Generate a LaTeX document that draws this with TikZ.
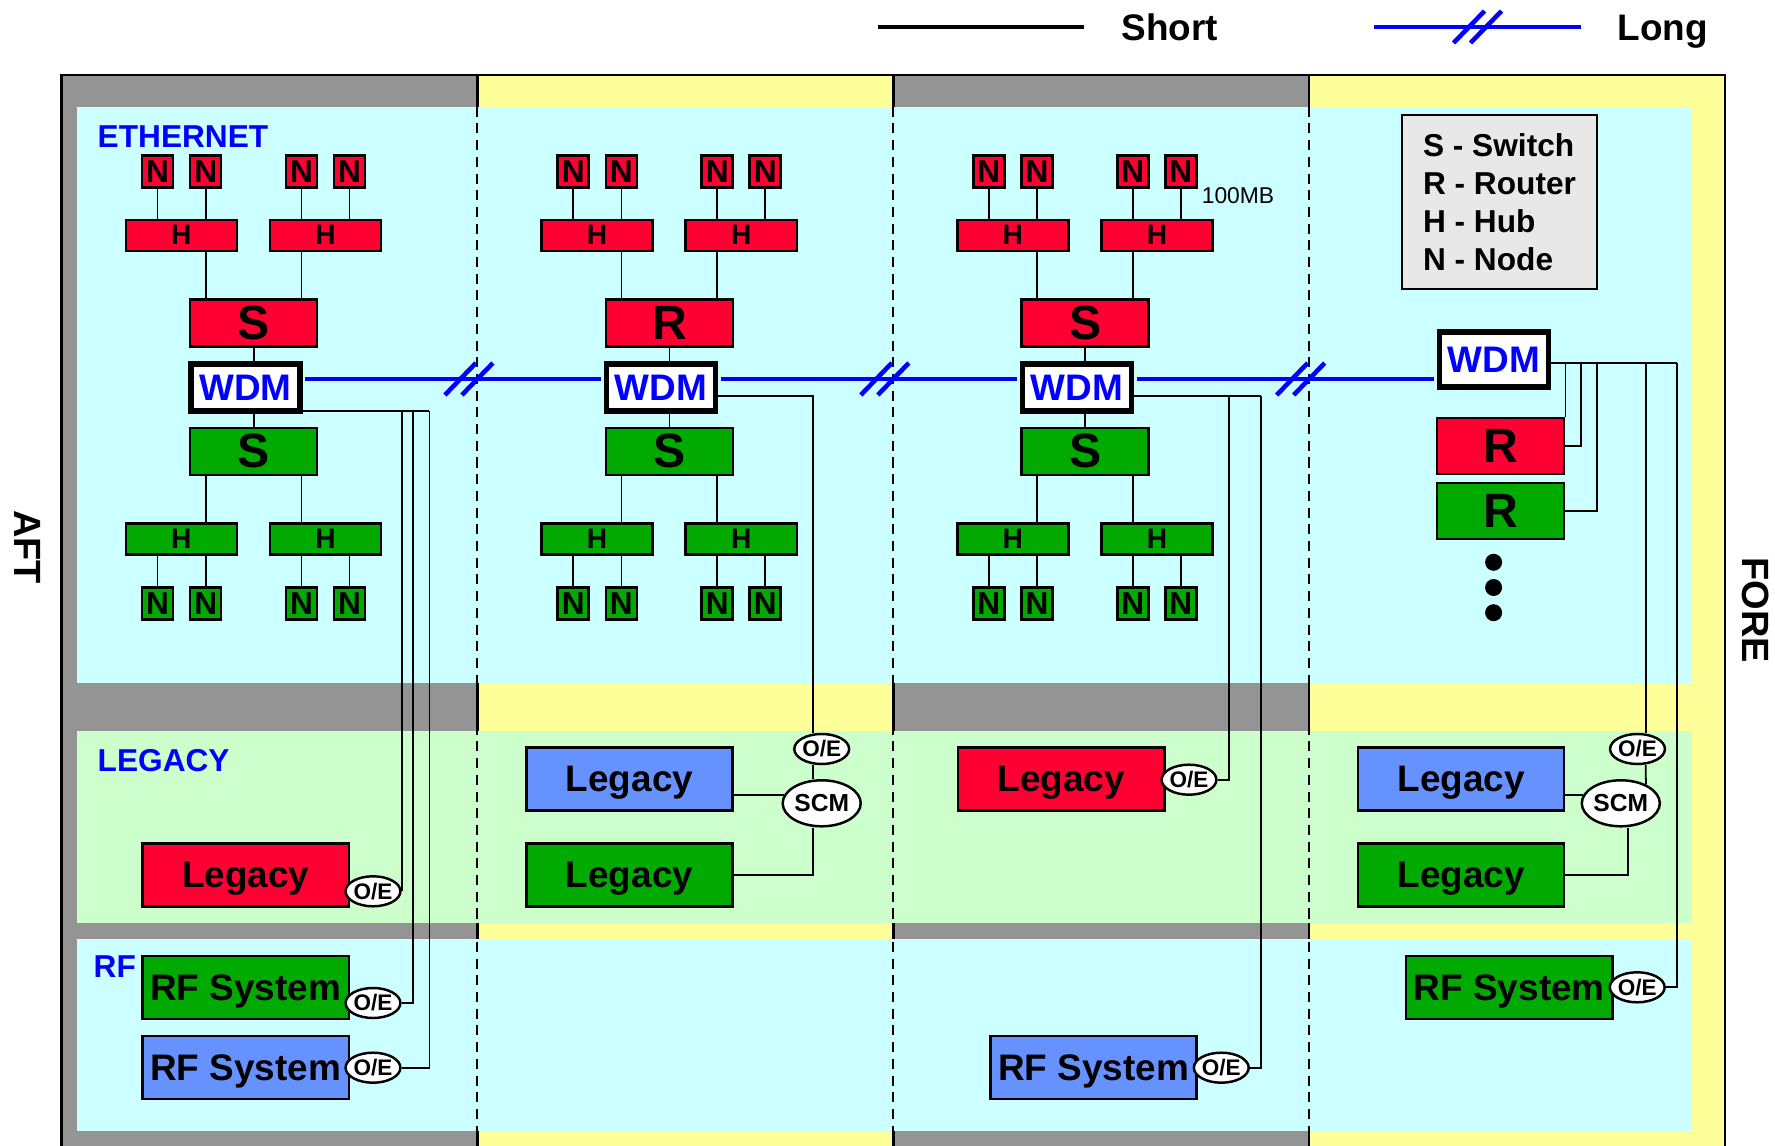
\documentclass[tikz,border=0pt]{standalone}
\usepackage{fontspec}
\setmainfont{Liberation Sans}
\usetikzlibrary{shapes.geometric}
\definecolor{netred}{RGB}{255,0,51}
\definecolor{netgreen}{RGB}{0,170,0}
\definecolor{netblue}{RGB}{102,146,255}
\definecolor{bandgray}{RGB}{148,148,148}
\definecolor{bandyellow}{RGB}{255,255,153}
\definecolor{panelcyan}{RGB}{204,255,255}
\definecolor{panelgreen}{RGB}{204,255,204}
\definecolor{keygray}{RGB}{232,232,232}
\def\boldsize#1{\fontsize{#1}{#1}\selectfont\bfseries}
\def\longbreak#1#2{\draw[longline] (#1-32.5,#2+16) -- (#1-1.5,#2-16) (#1-15.5,#2+16) -- (#1+15.5,#2-16);}
\tikzset{
  box/.style={draw, line width=0.7pt, inner sep=0pt},
  nbox/.style={box, minimum width=0.31cm, minimum height=0.32cm, font=\boldsize{9}},
  hbox/.style={box, minimum width=1.11cm, minimum height=0.31cm, font=\boldsize{8}},
  sbox/.style={box, minimum width=1.27cm, minimum height=0.47cm, font=\boldsize{13.7}},
  wdmbox/.style={draw, line width=1.55pt, fill=white, inner sep=0pt, minimum width=1.09cm, minimum height=0.47cm, text=blue, font=\boldsize{10.5}},
  bigbox/.style={box, minimum width=2.06cm, minimum height=0.63cm, text depth=0pt, font=\boldsize{10.5}},
  oebox/.style={ellipse, draw, line width=0.7pt, fill=white, inner sep=0pt, minimum width=0.45cm, minimum height=0.30cm, font=\boldsize{6.4}},
  scmbox/.style={ellipse, draw, line width=0.7pt, fill=white, inner sep=0pt, minimum width=0.78cm, minimum height=0.46cm, font=\boldsize{7}},
  wire/.style={line width=0.5pt},
  longline/.style={blue, line width=1.3pt},
  label/.style={anchor=west, inner sep=0pt, text=blue, font=\boldsize{9}}
}
\begin{document}
\begin{tikzpicture}[x=0.01cm,y=-0.01cm]
\useasboundingbox (0,0) rectangle (1775,1146);
\clip (0,0) rectangle (1775,1146);
\foreach \c/\col in {0/bandgray,1/bandyellow,2/bandgray,3/bandyellow}
  \draw[fill=\col, line width=0.7pt] (61.5+415.9*\c,75) rectangle (477.4+415.9*\c,1170);
\fill[panelcyan] (76.9,106.7) rectangle (1692,683.3);
\fill[panelgreen] (76.9,731) rectangle (1692,922.7);
\fill[panelcyan] (76.9,939) rectangle (1692,1130.7);
\foreach \x in {477.4,893.3,1309.2}
  \draw[line width=0.6pt, dash pattern=on 2.85pt off 1.9pt] (\x,106.7) -- (\x,1146);

\draw[line width=1.15pt] (878,27) -- (1084,27);
\node (short) at (1121,40.7) [anchor=base west, inner sep=0pt, font=\boldsize{10.5}] {Short};
\draw[longline] (1374,27) -- (1581,27);
\longbreak{1486}{27}
\node (long) at (1617,40.7) [anchor=base west, inner sep=0pt, font=\boldsize{10.5}] {Long};

\node (aft) at (28,547) [rotate=-90, font=\boldsize{10.8}] {AFT};
\node (fore) at (1756,610) [rotate=-90, font=\boldsize{10.8}] {FORE};
\node (eth) at (97,136.5) [label] {ETHERNET};
\node (leg) at (97,761) [label] {LEGACY};
\node (rf) at (93,966.7) [label] {RF};

\foreach \c/\kind in {1/S,2/R,3/S} {
\begin{scope}[shift={(415.7*\c-415.7,0)}]
\foreach \n/\x in {1/157.5,2/205.7,3/301.5,4/349.5} {
  \node (rn\n\c) at (\x,171.3) [nbox,fill=netred] {N};
  \node (gn\n\c) at (\x,603.3) [nbox,fill=netgreen] {N};
}
\foreach \h/\x in {1/181.4,2/325.5} {
  \node (rh\h\c) at (\x,235.3) [hbox,fill=netred] {H};
  \node (gh\h\c) at (\x,539.2) [hbox,fill=netgreen] {H};
}
\node (rs\c) at (253.7,323.2) [sbox,fill=netred] {\kind};
\node (wdm\c) at (245.4,387.5) [wdmbox] {WDM};
\node (gs\c) at (253.7,451.3) [sbox,fill=netgreen] {S};
\foreach \n/\h in {1/1,2/1,3/2,4/2} {
  \draw[wire] (rn\n\c.south) -- (rn\n\c.south |- rh\h\c.north);
  \draw[wire] (gn\n\c.north) -- (gn\n\c.north |- gh\h\c.south);
}
\foreach \n/\h in {2/1,3/2} {
  \draw[wire] (rn\n\c |- rh\h\c.south) -- (rn\n\c |- rs\c.north);
  \draw[wire] (gn\n\c |- gh\h\c.north) -- (gn\n\c |- gs\c.south);
}
\draw[wire] (rs\c.south) -- (rs\c.south |- wdm\c.north);
\draw[wire] (gs\c.north) -- (gs\c.north |- wdm\c.south);
\end{scope}
}
\node (mb) at (1238,196) [font=\fontsize{6.5}{6.5}\selectfont, inner sep=0pt] {100MB};

\node (key) at (1499.5,202) [box, fill=keygray, minimum width=1.95cm, minimum height=1.74cm, align=left, font=\fontsize{9}{10.8}\selectfont\bfseries] {S - Switch\\R - Router\\H - Hub\\N - Node};
\node (wdm4) at (1494,359.7) [wdmbox, minimum height=0.55cm] {WDM};
\node (rr4) at (1500.7,446.2) [sbox, minimum height=0.56cm, fill=netred] {R};
\node (gr4) at (1500.7,510.8) [sbox, minimum height=0.56cm, fill=netgreen] {R};
\foreach \y in {562.3,587.5,612.7}
  \fill (1493.6,\y) circle [radius=0.085cm];

\coordinate (bus) at (0,379);
\draw[longline, shorten <=0.7pt, shorten >=0.7pt] (wdm1.east |- bus) -- (wdm2.west |- bus);
\draw[longline, shorten <=0.7pt, shorten >=0.7pt] (wdm2.east |- bus) -- (wdm3.west |- bus);
\draw[longline, shorten <=0.7pt, shorten >=0.7pt] (wdm3.east |- bus) -- (wdm4.west |- bus);
\longbreak{477.4}{379}
\longbreak{893.3}{379}
\longbreak{1309.2}{379}

\node (leg1) at (245.7,875.2) [bigbox,fill=netred] {Legacy};
\node (oe1) at (373,891.3) [oebox] {O/E};
\node (rfa1) at (245.7,987.5) [bigbox,fill=netgreen] {RF System};
\node (oe2) at (373,1003) [oebox] {O/E};
\node (rfb1) at (245.7,1067.5) [bigbox,fill=netblue] {RF System};
\node (oe3) at (373,1067.7) [oebox] {O/E};
\coordinate (t1) at (429.4,411);
\coordinate (t1b) at (413.3,411);
\draw[wire] (wdm1.east |- t1) -- (t1);
\draw[wire] (oe1.east) -- (oe1.east |- t1);
\draw[wire] (oe2.east) -| (t1b);
\draw[wire] (oe3.east) -| (t1);

\node (leg2) at (629.5,779) [bigbox,fill=netblue] {Legacy};
\node (leg3) at (629.5,875) [bigbox,fill=netgreen] {Legacy};
\node (scm2) at (821.7,803.3) [scmbox] {SCM};
\node (oe4) at (821.7,749) [oebox] {O/E};
\coordinate (t2) at (813,395.7);
\draw[wire] (wdm2.east |- t2) -- (t2) -- (t2 |- oe4.north);
\draw[wire] (t2 |- oe4.south) -- (t2 |- scm2.north);
\draw[wire] (leg3.east) -| (t2 |- scm2.south);
\draw[wire] (leg2.east |- scm2.168) -- (scm2.168);

\node (leg4) at (1061.2,779) [bigbox,fill=netred] {Legacy};
\node (oe5) at (1189,779.7) [oebox] {O/E};
\node (rfb3) at (1093.5,1067.5) [bigbox,fill=netblue] {RF System};
\node (oe6) at (1221.3,1067.7) [oebox] {O/E};
\coordinate (t3) at (1260.7,395.7);
\coordinate (t3a) at (1229.3,395.7);
\draw[wire] (wdm3.east |- t3) -- (t3);
\draw[wire] (oe5.east) -| (t3a);
\draw[wire] (oe6.east) -| (t3);

\node (leg5) at (1461.1,779) [bigbox,fill=netblue] {Legacy};
\node (leg6) at (1461.1,875) [bigbox,fill=netgreen] {Legacy};
\node (scm4) at (1620.8,803.3) [scmbox] {SCM};
\node (oe7) at (1637.5,749) [oebox] {O/E};
\node (rfa4) at (1509.3,987.5) [bigbox,fill=netgreen] {RF System};
\node (oe8) at (1637.2,987.3) [oebox] {O/E};
\coordinate (t4) at (1677.3,363.3);
\coordinate (t4a) at (1581,363.3);
\coordinate (t4b) at (1597.3,363.3);
\coordinate (t4c) at (1645.7,363.3);
\coordinate (s4) at (1628.3,0);
\draw[wire] (wdm4.east |- t4) -- (t4);
\draw[wire] (rr4.north east) -- (rr4.north east |- t4);
\draw[wire] (rr4.east) -| (t4a);
\draw[wire] (gr4.east) -| (t4b);
\draw[wire] (t4c) -- (t4c |- oe7.north);
\draw[wire] (t4c |- oe7.south) -- (scm4.37);
\draw[wire] (leg5.east |- scm4.168) -- (scm4.168);
\draw[wire] (leg6.east) -| (scm4.south -| s4);
\draw[wire] (oe8.east) -| (t4);
\end{tikzpicture}
\end{document}
